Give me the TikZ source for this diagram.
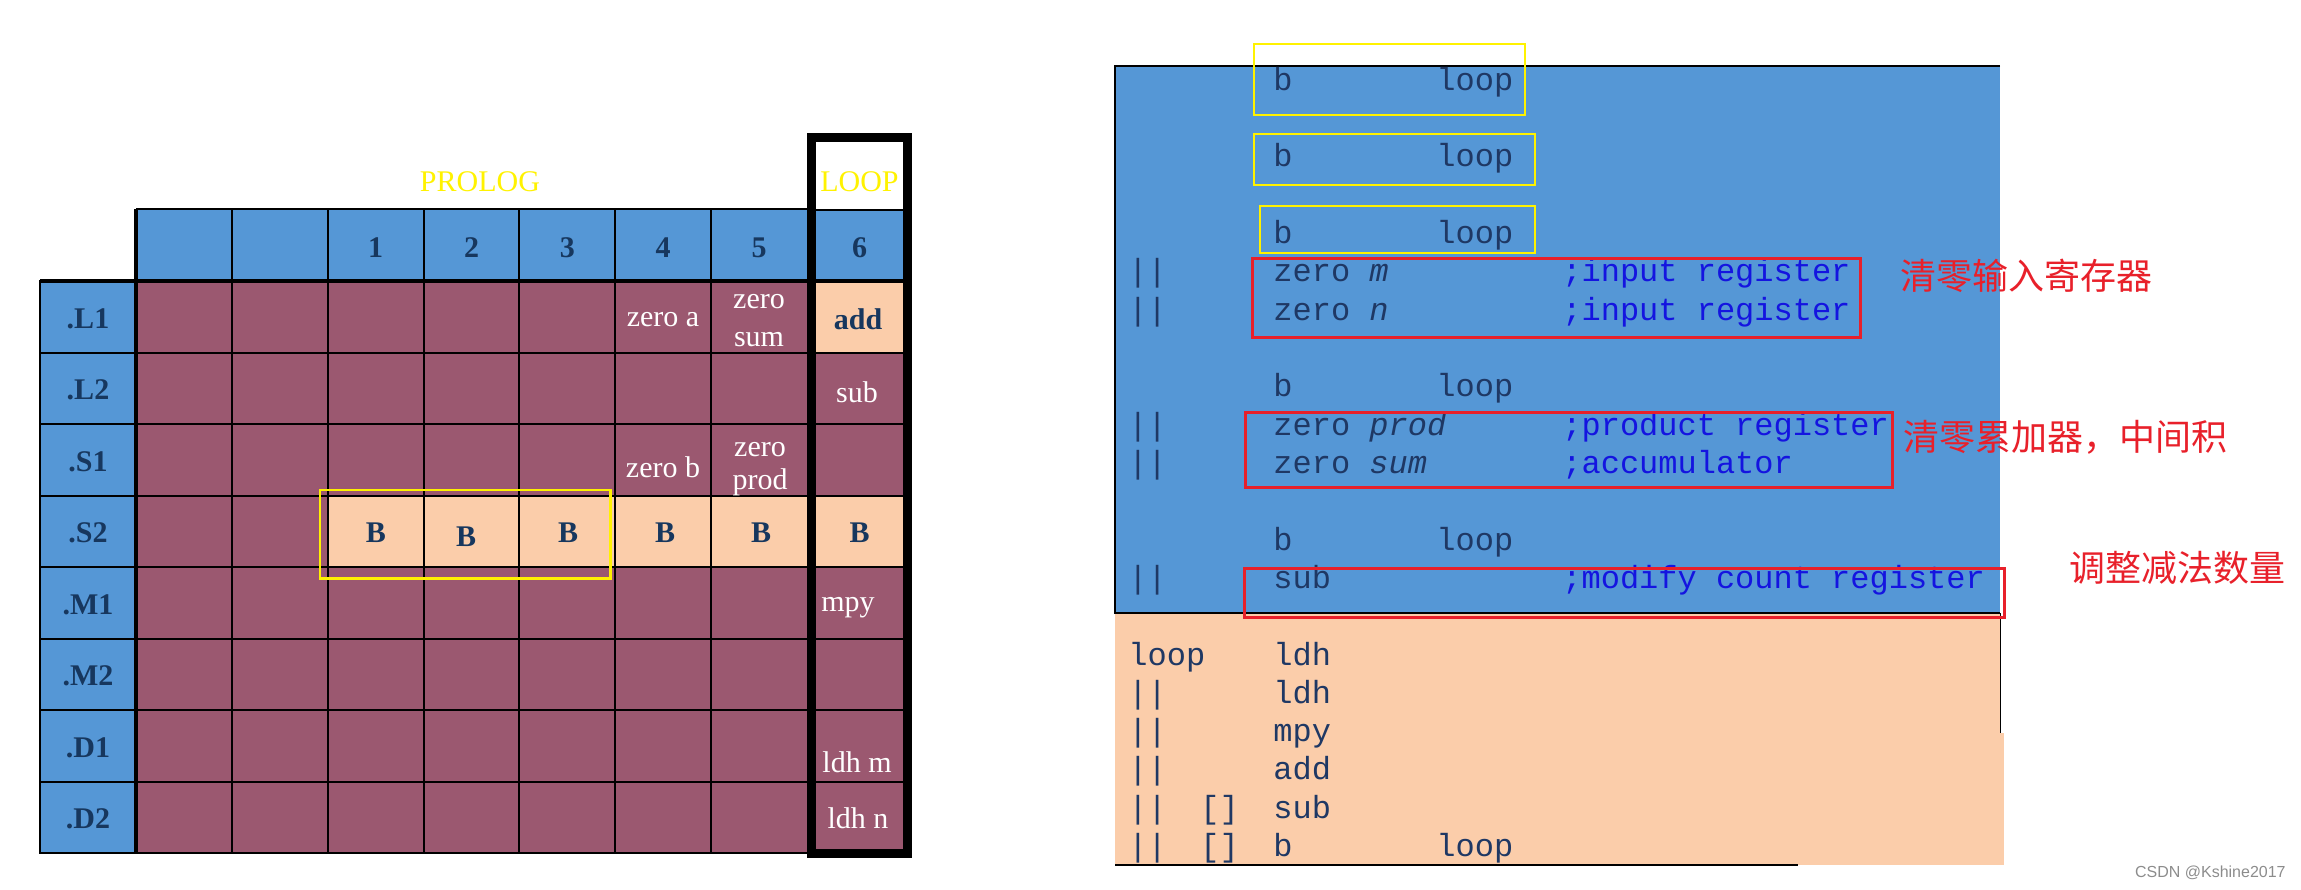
\documentclass[tikz,border=0pt]{standalone}
\usepackage{fontspec}
\setmainfont{Liberation Serif}
\newfontfamily\codefont{Liberation Mono}
\newfontfamily\cjkfont{Noto Sans CJK SC}
\newfontfamily\markfont{Liberation Sans}

\definecolor{unitblue}{HTML}{5597D6}
\definecolor{slotred}{HTML}{9B5870}
\definecolor{slotpeach}{HTML}{FBCDAA}
\definecolor{inkblue}{HTML}{17375E}
\definecolor{codeink}{HTML}{1F3864}
\definecolor{cmtink}{HTML}{1414E0}
\definecolor{notered}{HTML}{E8202A}
\definecolor{phaseyellow}{HTML}{FFF200}

\begin{document}
\begin{tikzpicture}[x=0.5pt,y=-0.5pt,
        gridline/.style={black, line width=1pt},
        tab/.style={inner sep=0pt, align=center, font=\fontsize{15}{19}\selectfont},
        unit/.style={tab, text=inkblue, font=\fontsize{15}{19}\selectfont\bfseries},
        op/.style={tab, text=white},
        phase/.style={tab, text=phaseyellow},
        code/.style={inner sep=0pt, anchor=base west, text=codeink,
            font=\codefont\fontsize{16}{16}\selectfont},
        cmt/.style={code, text=cmtink},
        note/.style={inner sep=0pt, anchor=west, text=notered,
            font=\cjkfont\fontsize{18}{18}\selectfont},
        ybox/.style={draw=phaseyellow, line width=1.25pt},
        rbox/.style={draw=notered, line width=1.5pt}]
        \useasboundingbox (0,0) rectangle (2301,889);

        % Schedule table: fills first.
        \fill[unitblue]  (136,209) rectangle (807,280);
        \fill[unitblue]  (40,280)  rectangle (136,853);
        \fill[slotred]   (136,280) rectangle (807,853);
        \fill[slotpeach] (327.7,495.5) rectangle (807,567);
        \fill[unitblue]  (816,210) rectangle (903,280);
        \fill[slotred]   (816,280) rectangle (903,853);
        \fill[slotpeach] (816,280) rectangle (903,352);
        \fill[slotpeach] (816,495.5) rectangle (903,567);

        % Grid lines.
        \foreach \i in {1,...,6}
            \draw[gridline] (136+95.86*\i,209) -- (136+95.86*\i,853);
        \foreach \r in {1,...,7}
            \draw[gridline] (40,281+71.5*\r) -- (903,281+71.5*\r);
        \draw[gridline] (136,209) -- (807,209);
        \draw[gridline] (816,210) -- (903,210);
        \draw[line width=2pt] (40,280.5) -- (903,280.5);
        \draw[gridline] (40,280) -- (40,853) -- (807,853);
        \draw[line width=2.25pt] (136,209) -- (136,853);
        \draw[line width=4.5pt] (811.5,137.5) rectangle (907.5,853.5);

        % Phase titles and cycle numbers.
        \node[phase] (prolog) at (480,182)   {PROLOG};
        \node[phase] (loop)   at (859.5,182) {LOOP};
        \foreach \n in {1,...,5}
            \node[unit] (cyc\n) at (136+95.86*\n+143.8,248) {\n};
        \node[unit] (cyc6) at (859.5,248) {6};

        % Functional units.
        \foreach \lab [count=\r from 0] in {.L1,.L2,.S1,.S2,.M1,.M2,.D1,.D2}
            \node[unit] (u\r) at (88,318.5+71.5*\r) {\lab};

        % What each unit does.
        \node[op] (zeroa)    at (663,320) {zero a};
        \node[op] (zerosum)  at (759,321) {zero\\sum};
        \node[op] (zerob)    at (663,467) {zero b};
        \node[op, font=\fontsize{15}{16.5}\selectfont]
                  (zeroprod) at (760,469) {zero\\prod};
        \node[unit] (add)    at (858,319) {add};
        \node[op] (sub)      at (857,392) {sub};
        \node[op] (mpy)      at (848,608) {mpy};
        \node[op] (ldhm)     at (857,762) {ldh m};
        \node[op] (ldhn)     at (858,818) {ldh n};
        \foreach \x/\y [count=\k] in {376/533,466/537,568/533,665/533,761/533,859.5/533}
            \node[unit] (br\k) at (\x,\y) {B};
        \draw[ybox] (320,490) rectangle (610.5,578.5);

        % Code listing: prolog in blue, loop body in peach.
        \fill[unitblue]  (1115,66)  rectangle (2000,613);
        \fill[slotpeach] (1115,613) rectangle (2000,733);
        \fill[slotpeach] (1115,733) rectangle (2004,865);
        \draw[line width=1.25pt] (2000,66) -- (1115,66) -- (1115,613) -- (2000,613);
        \draw[line width=0.5pt] (2000,613) -- (2000,733);
        \draw[line width=0.75pt] (1115,865) -- (1798,865);

        \foreach \y [count=\n] in {90,166,243,396,550} {
            \node[code] (bi\n) at (1273,\y) {b};
            \node[code] (bt\n) at (1436,\y) {loop};
        }
        \foreach \y [count=\n] in {281,320,435,473,588,703,741,779,818,856}
            \node[code] (par\n) at (1128,\y) {||};

        \node[code] (zm)   at (1273,281) {zero \textit{m}};
        \node[cmt]  (czm)  at (1562,281) {;input register};
        \node[code] (zn)   at (1273,320) {zero \textit{n}};
        \node[cmt]  (czn)  at (1562,320) {;input register};
        \node[code] (zp)   at (1273,435) {zero \textit{prod}};
        \node[cmt]  (czp)  at (1562,435) {;product register};
        \node[code] (zs)   at (1273,473) {zero \textit{sum}};
        \node[cmt]  (czs)  at (1562,473) {;accumulator};
        \node[code] (sb)   at (1273,588) {sub};
        \node[cmt]  (csb)  at (1562,588) {;modify count register};

        \node[code] (lbl)  at (1128,665) {loop};
        \node[code] (ld1)  at (1273,665) {ldh};
        \node[code] (ld2)  at (1273,703) {ldh};
        \node[code] (mp)   at (1273,741) {mpy};
        \node[code] (ad)   at (1273,779) {add};
        \node[code] (cd1)  at (1200,818) {[]};
        \node[code] (sb2)  at (1273,818) {sub};
        \node[code] (cd2)  at (1200,856) {[]};
        \node[code] (br)   at (1273,856) {b};
        \node[code] (brt)  at (1436,856) {loop};

        % Marks and notes.
        \draw[ybox] (1254,44)  rectangle (1525,115);
        \draw[ybox] (1254,134) rectangle (1535,185);
        \draw[ybox] (1260,206) rectangle (1535,253);
        \draw[rbox] (1252,258) rectangle (1860,337);
        \draw[rbox] (1245,412) rectangle (1892,487);
        \draw[rbox] (1244,568) rectangle (2004,617);
        \node[note] (n1) at (1900,276) {清零输入寄存器};
        \node[note] (n2) at (1903,437) {清零累加器，中间积};
        \node[note] (n3) at (2069,568) {调整减法数量};

        \node[anchor=east, inner sep=0pt, text=black!45,
              font=\markfont\fontsize{8}{8}\selectfont] (wm) at (2286,873) {CSDN @Kshine2017};
    \end{tikzpicture}
\end{document}
